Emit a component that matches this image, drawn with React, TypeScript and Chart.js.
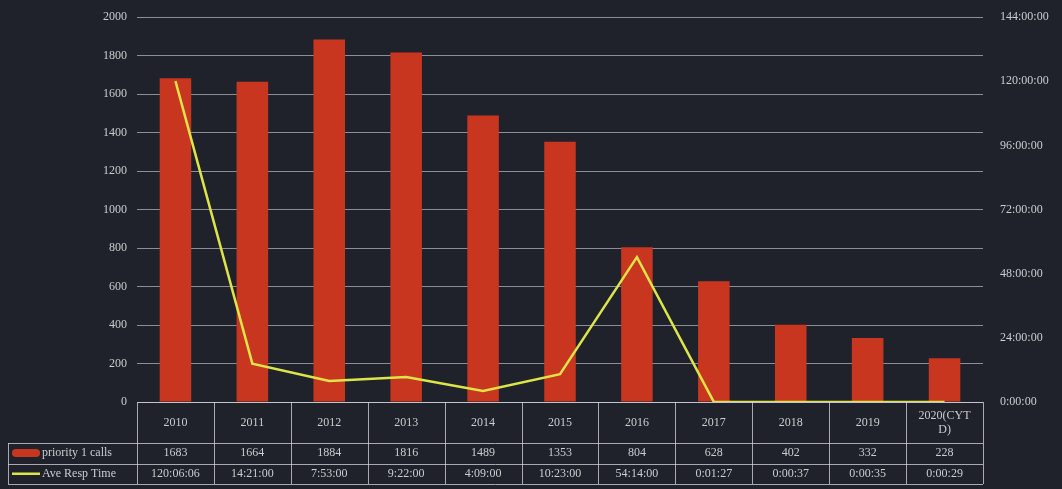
import React, { useEffect, useRef } from "react";
import { Chart, registerables } from "chart.js";

Chart.register(...registerables);

const categories = ["2010", "2011", "2012", "2013", "2014", "2015", "2016", "2017", "2018", "2019", "2020(CYTD)"];
const priorityCalls = [1683, 1664, 1884, 1816, 1489, 1353, 804, 628, 402, 332, 228];
// average response time per year, in seconds
const respSeconds = [432366, 51660, 28380, 33720, 14940, 37380, 195240, 87, 37, 35, 29];
const leftTicks = [0, 200, 400, 600, 800, 1000, 1200, 1400, 1600, 1800, 2000];
const rightTicks = [0, 24, 48, 72, 96, 120, 144];

const seriesNames = ["priority 1 calls", "Ave Resp Time"];

const BG = "#20222b";
const TEXT = "#c9ccd0";
const BAR = "#c9361f";
const LINE = "#dde447";
const FONT = "'Liberation Serif', 'DejaVu Serif', serif";

const pad2 = (n: number) => String(n).padStart(2, "0");
const fmtSeconds = (s: number) => {
  const h = Math.floor(s / 3600);
  const m = Math.floor((s % 3600) / 60);
  const sec = s % 60;
  return `${h}:${pad2(m)}:${pad2(sec)}`;
};

const respHours = respSeconds.map((s) => s / 3600);

const HEADER_H = 41;
const ROW_H = 20.5;
const TABLE_LEFT = 8;

function wrapChars(ctx: CanvasRenderingContext2D, text: string, maxW: number): string[] {
  const lines: string[] = [];
  let cur = "";
  for (const ch of text) {
    if (cur && ctx.measureText(cur + ch).width > maxW) {
      lines.push(cur);
      cur = ch;
    } else cur += ch;
  }
  if (cur) lines.push(cur);
  return lines;
}

const dataTablePlugin = {
  id: "dataTable",
  afterDraw(chart: any) {
    const ctx: CanvasRenderingContext2D = chart.ctx;
    const x = chart.scales.x;
    const area = chart.chartArea;
    const n = categories.length;
    const step = x.getPixelForValue(1) - x.getPixelForValue(0);
    const left = area.left;
    const right = area.right;
    const top = area.bottom;
    const r1 = top + HEADER_H;
    const r2 = r1 + ROW_H;
    const r3 = r2 + ROW_H;

    ctx.save();
    ctx.strokeStyle = "rgba(215,215,220,0.75)";
    ctx.lineWidth = 1;
    const hline = (y: number, x0: number, x1: number) => {
      ctx.beginPath();
      ctx.moveTo(x0, Math.round(y) + 0.5);
      ctx.lineTo(x1, Math.round(y) + 0.5);
      ctx.stroke();
    };
    const vline = (xx: number, y0: number, y1: number) => {
      ctx.beginPath();
      ctx.moveTo(Math.round(xx) + 0.5, y0);
      ctx.lineTo(Math.round(xx) + 0.5, y1);
      ctx.stroke();
    };
    hline(top, left, right);
    hline(r1, TABLE_LEFT, right);
    hline(r2, TABLE_LEFT, right);
    hline(r3, TABLE_LEFT, right);
    vline(TABLE_LEFT, r1, r3);
    for (let i = 0; i <= n; i++) {
      const xx = x.getPixelForValue(i) - step / 2;
      vline(i === n ? right : xx, top, r3);
    }

    ctx.fillStyle = TEXT;
    ctx.textAlign = "center";
    ctx.textBaseline = "middle";
    ctx.font = `12px ${FONT}`;
    for (let i = 0; i < n; i++) {
      const cx = x.getPixelForValue(i);
      const lines = wrapChars(ctx, categories[i], step - 18);
      const lh = 14;
      const y0 = top + HEADER_H / 2 - ((lines.length - 1) * lh) / 2;
      lines.forEach((ln, k) => ctx.fillText(ln, cx, y0 + k * lh));
      ctx.fillText(String(priorityCalls[i]), cx, r1 + ROW_H / 2);
      ctx.fillText(fmtSeconds(respSeconds[i]), cx, r2 + ROW_H / 2);
    }

    // series keys
    ctx.textAlign = "left";
    ctx.fillStyle = BAR;
    ctx.beginPath();
    (ctx as any).roundRect(12, r1 + 6, 28, 8, 4);
    ctx.fill();
    ctx.strokeStyle = LINE;
    ctx.lineWidth = 2.5;
    ctx.beginPath();
    ctx.moveTo(12, r2 + ROW_H / 2);
    ctx.lineTo(40, r2 + ROW_H / 2);
    ctx.stroke();
    ctx.fillStyle = TEXT;
    ctx.fillText(seriesNames[0], 42, r1 + ROW_H / 2);
    ctx.fillText(seriesNames[1], 42, r2 + ROW_H / 2);
    ctx.restore();
  },
};

export default function App() {
  const ref = useRef<HTMLCanvasElement | null>(null);

  useEffect(() => {
    if (!ref.current) return;
    const chart = new Chart(ref.current, {
      data: {
        labels: categories,
        datasets: [
          {
            type: "line",
            label: seriesNames[1],
            data: respHours,
            yAxisID: "y1",
            borderColor: LINE,
            borderWidth: 2.5,
            pointRadius: 0,
            tension: 0,
            order: 0,
          },
          {
            type: "bar",
            label: seriesNames[0],
            data: priorityCalls,
            yAxisID: "y",
            backgroundColor: BAR,
            categoryPercentage: 0.82,
            barPercentage: 0.5,
            order: 1,
          },
        ],
      } as any,
      options: {
        animation: false,
        responsive: false,
        maintainAspectRatio: false,
        layout: { padding: { top: 5, bottom: 79, left: 0, right: 0 } },
        plugins: { legend: { display: false }, tooltip: { enabled: false } },
        scales: {
          x: {
            ticks: { display: false },
            grid: { display: false },
            border: { display: false },
          },
          y: {
            position: "left",
            min: 0,
            max: 2000,
            afterBuildTicks: (s: any) => {
              s.ticks = leftTicks.map((v) => ({ value: v }));
            },
            afterFit: (s: any) => {
              s.width = 137;
            },
            ticks: {
              color: TEXT,
              font: { family: FONT, size: 12 },
              padding: 10,
              callback: (v: any) => String(v),
            },
            grid: { color: "rgba(175,178,190,0.75)", lineWidth: 1, drawTicks: false },
            border: { display: false },
          },
          y1: {
            position: "right",
            min: 0,
            max: 144,
            afterBuildTicks: (s: any) => {
              s.ticks = rightTicks.map((v) => ({ value: v }));
            },
            afterFit: (s: any) => {
              s.width = 79;
            },
            ticks: {
              color: TEXT,
              font: { family: FONT, size: 12 },
              padding: 9,
              callback: (v: any) => fmtSeconds(Number(v) * 3600),
            },
            grid: { display: false },
            border: { display: false },
          },
        },
      } as any,
      plugins: [dataTablePlugin],
    });
    return () => chart.destroy();
  }, []);

  return (
    <div style={{ position: "absolute", left: 0, top: 0, width: 1062, height: 489, background: BG }}>
      <canvas ref={ref} width={1062} height={489} style={{ display: "block" }} />
    </div>
  );
}
